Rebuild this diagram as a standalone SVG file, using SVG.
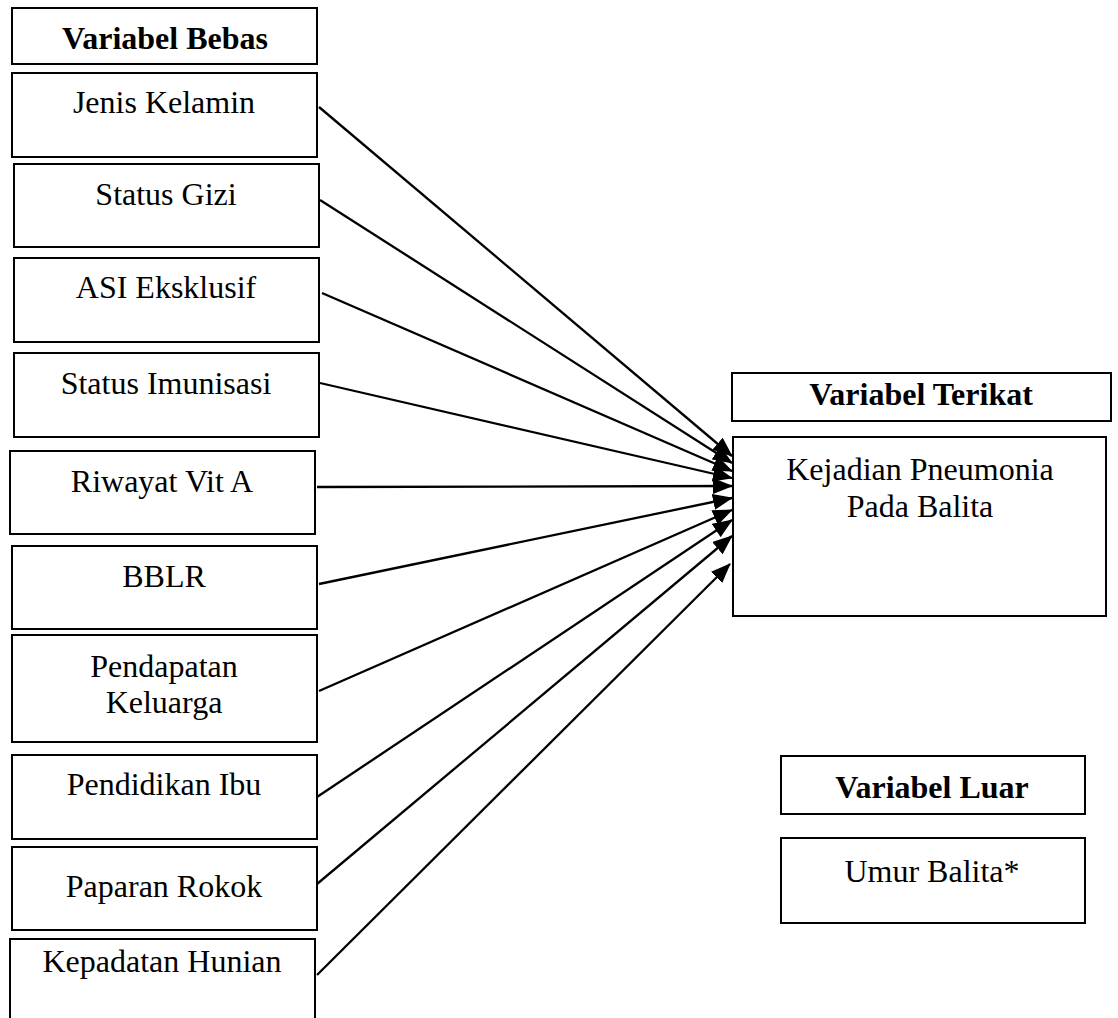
<svg xmlns="http://www.w3.org/2000/svg" width="1118" height="1018" viewBox="0 0 1118 1018">
<style>
  .box { fill: #fff; stroke: #000; stroke-width: 2; }
  .t { font-family: "Liberation Serif", "Times New Roman", serif; font-size: 32px; fill: #000; text-anchor: middle; }
  .b { font-weight: bold; }
  .conn line { stroke: #000; stroke-width: 2.3; }
</style>
<defs>
  <marker id="ah" markerUnits="userSpaceOnUse" markerWidth="20" markerHeight="16" refX="19" refY="8" orient="auto">
    <path d="M0,0 L20,8 L0,16 Z" fill="#000"/>
  </marker>
</defs>
<rect width="1118" height="1018" fill="#fff"/>

<g id="hdr-bebas"><rect class="box" x="12" y="8" width="305" height="56"/><text class="t b" x="165" y="49">Variabel Bebas</text></g>
<g id="n1"><rect class="box" x="12" y="73" width="305" height="84"/><text class="t" x="164" y="113">Jenis Kelamin</text></g>
<g id="n2"><rect class="box" x="14" y="164" width="305" height="83"/><text class="t" x="166" y="205">Status Gizi</text></g>
<g id="n3"><rect class="box" x="14" y="258" width="305" height="84"/><text class="t" x="166" y="298">ASI Eksklusif</text></g>
<g id="n4"><rect class="box" x="14" y="353" width="305" height="84"/><text class="t" x="166" y="394">Status Imunisasi</text></g>
<g id="n5"><rect class="box" x="10" y="451" width="305" height="83"/><text class="t" x="162" y="492">Riwayat Vit A</text></g>
<g id="n6"><rect class="box" x="12" y="546" width="305" height="83"/><text class="t" x="164" y="587">BBLR</text></g>
<g id="n7"><rect class="box" x="12" y="635" width="305" height="107"/><text class="t" x="164" y="677">Pendapatan</text><text class="t" x="164" y="713">Keluarga</text></g>
<g id="n8"><rect class="box" x="12" y="755" width="305" height="84"/><text class="t" x="164" y="795">Pendidikan Ibu</text></g>
<g id="n9"><rect class="box" x="12" y="847" width="305" height="83"/><text class="t" x="164" y="897">Paparan Rokok</text></g>
<g id="n10"><rect class="box" x="10" y="939" width="305" height="100"/><text class="t" x="162" y="972">Kepadatan Hunian</text></g>

<g id="hdr-terikat"><rect class="box" x="732" y="373" width="379" height="48"/><text class="t b" x="921" y="405">Variabel Terikat</text></g>
<g id="target"><rect class="box" x="733" y="437" width="373" height="179"/><text class="t" x="920" y="480">Kejadian Pneumonia</text><text class="t" x="920" y="517">Pada Balita</text></g>

<g id="hdr-luar"><rect class="box" x="781" y="756" width="304" height="58"/><text class="t b" x="932" y="798">Variabel Luar</text></g>
<g id="luar"><rect class="box" x="781" y="838" width="304" height="85"/><text class="t" x="932" y="882">Umur Balita*</text></g>

<g id="connectors" class="conn">
  <line x1="319" y1="107" x2="732" y2="456" marker-end="url(#ah)"/>
  <line x1="320" y1="200" x2="732" y2="463" marker-end="url(#ah)"/>
  <line x1="322" y1="293" x2="732" y2="471" marker-end="url(#ah)"/>
  <line x1="320" y1="383" x2="732" y2="478" marker-end="url(#ah)"/>
  <line x1="317" y1="487" x2="732" y2="486" marker-end="url(#ah)"/>
  <line x1="319" y1="584" x2="732" y2="498" marker-end="url(#ah)"/>
  <line x1="319" y1="691" x2="732" y2="510" marker-end="url(#ah)"/>
  <line x1="317" y1="797" x2="732" y2="520" marker-end="url(#ah)"/>
  <line x1="317" y1="884" x2="732" y2="536" marker-end="url(#ah)"/>
  <line x1="317" y1="975" x2="730" y2="564" marker-end="url(#ah)"/>
</g>
</svg>
